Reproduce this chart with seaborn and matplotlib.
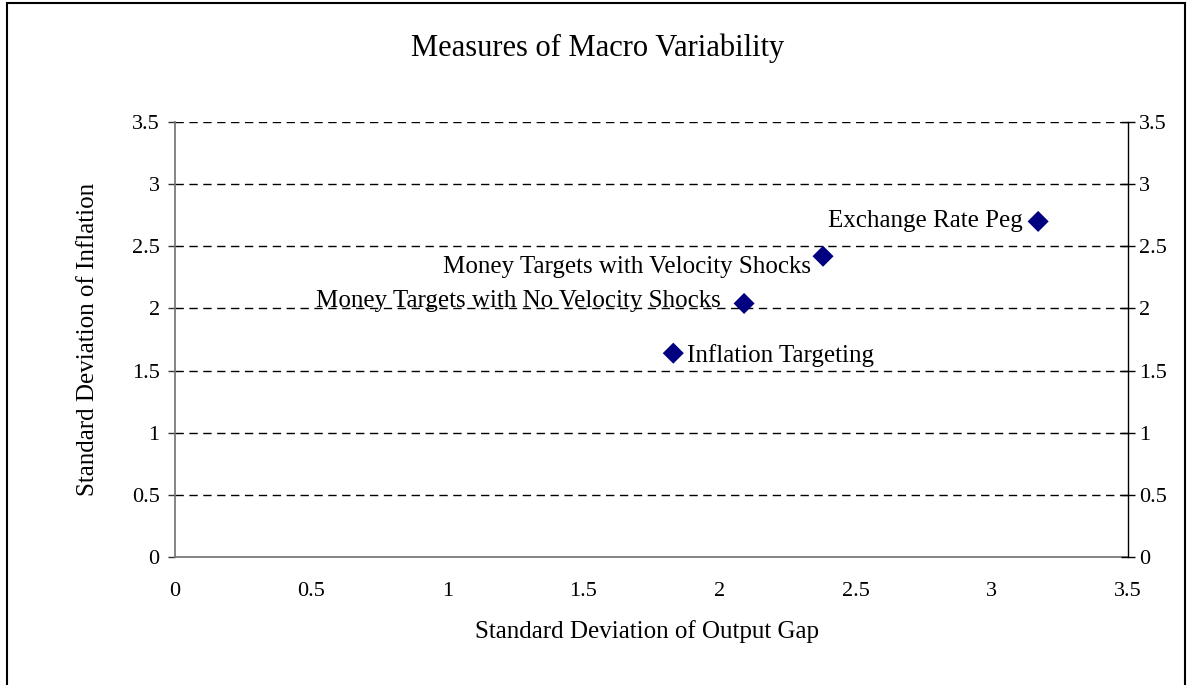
import numpy as np
import pandas as pd
import seaborn as sns
import matplotlib.pyplot as plt
from matplotlib.patches import Rectangle

# data
regimes = ["Exchange Rate Peg", "Money Targets with Velocity Shocks",
           "Money Targets with No Velocity Shocks", "Inflation Targeting"]
sd_output_gap = [3.17, 2.38, 2.09, 1.83]
sd_inflation = [2.70, 2.42, 2.04, 1.64]
ticks = [0, 0.5, 1, 1.5, 2, 2.5, 3, 3.5]
tick_labels = ["0", "0.5", "1", "1.5", "2", "2.5", "3", "3.5"]

# label placement (points offset from marker, alignment)
label_offsets = [(-11, 0, "right"), (-9, -8, "right"), (-17, 2, "right"), (10, -2, "left")]

df = pd.DataFrame({"regime": regimes, "x": sd_output_gap, "y": sd_inflation})

sns.set_style("white")
plt.rcParams["font.family"] = ["Liberation Serif", "DejaVu Serif"]
plt.rcParams["text.color"] = "black"
plt.rcParams["axes.labelcolor"] = "black"
plt.rcParams["xtick.color"] = "black"
plt.rcParams["ytick.color"] = "black"

fig = plt.figure(figsize=(11.88, 6.85), dpi=100)
ax = fig.add_axes([175 / 1188, 1 - 557 / 685, (1128 - 175) / 1188, (557 - 122) / 685])

sns.scatterplot(data=df, x="x", y="y", ax=ax, marker="D", s=115,
                color="#000080", edgecolor="none", zorder=5, legend=False)

ax.set_xlim(0, 3.5)
ax.set_ylim(0, 3.5)
ax.set_xticks(ticks)
ax.set_xticklabels(tick_labels)
ax.set_yticks(ticks)
ax.set_yticklabels(tick_labels)
ax.tick_params(axis="both", labelsize=16, length=5, width=1, colors="#333333",
               labelcolor="black", direction="out", pad=6)
ax.tick_params(axis="x", pad=13)

for yv in ticks[1:]:
    ax.axhline(yv, color="black", lw=1, ls=(0, (6, 4)), zorder=1)

for side in ["top", "right"]:
    ax.spines[side].set_visible(False)
for side in ["left", "bottom"]:
    ax.spines[side].set_color("#707070")
    ax.spines[side].set_linewidth(1.2)

ax2 = ax.twinx()
ax2.set_ylim(0, 3.5)
ax2.set_yticks(ticks)
ax2.set_yticklabels(tick_labels)
ax2.tick_params(axis="y", labelsize=16, length=10, width=1, direction="inout", pad=3,
                colors="black")
for side in ["top", "left", "bottom"]:
    ax2.spines[side].set_visible(False)
ax2.spines["right"].set_color("black")
ax2.spines["right"].set_linewidth(1)

for name, xv, yv, (dx, dy, ha) in zip(regimes, sd_output_gap, sd_inflation, label_offsets):
    ax.annotate(name, (xv, yv), xytext=(dx, dy), textcoords="offset points",
                ha=ha, va="center", fontsize=18, color="black", zorder=6)

ax.set_xlabel("Standard Deviation of Output Gap", fontsize=18)
ax.xaxis.set_label_coords((647 - 175) / (1128 - 175), -(620 - 557) / (557 - 122))
ax.set_ylabel("Standard Deviation of Inflation", fontsize=18, labelpad=24)
fig.text(598 / 1188, 1 - 48 / 685, "Measures of Macro Variability",
         ha="center", va="center", fontsize=22)

fig.patches.append(Rectangle((7 / 1188, -0.02), (1185 - 7) / 1188, 1 - 3 / 685 + 0.02,
                             transform=fig.transFigure, fill=False,
                             edgecolor="black", lw=1.5))

fig.savefig("out.png", dpi=100)
